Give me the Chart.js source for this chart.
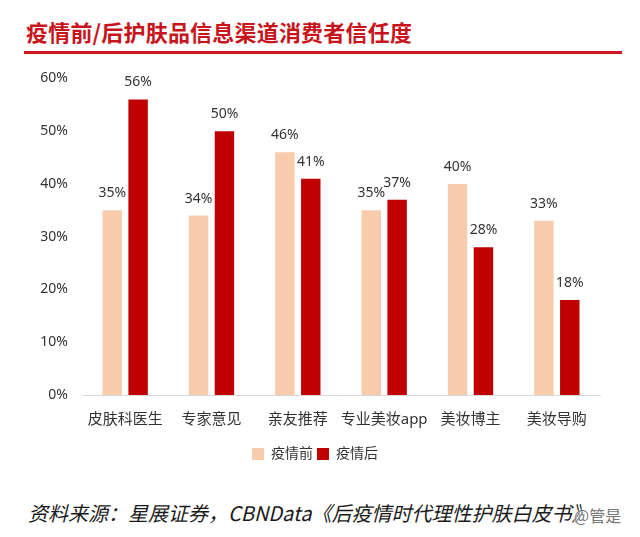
<!DOCTYPE html>
<html>
<head>
<meta charset="utf-8">
<script src="https://cdn.jsdelivr.net/npm/chart.js@4"></script>
<style>
  html, body { margin: 0; padding: 0; background: #fff; }
  body { width: 640px; height: 537px; position: relative; overflow: hidden;
         font-family: 'Noto Sans', 'Noto Sans CJK SC', sans-serif; }
  #title { position: absolute; left: 26px; top: 15px; font-size: 22px; font-weight: bold;
           color: #c8141c; font-family: 'Noto Sans CJK SC', sans-serif; letter-spacing: 0.2px; }
  #rule { position: absolute; left: 24px; top: 51px; width: 598px; height: 3px; background: #d0161e; }
  #box { position: absolute; left: 0; top: 56px; width: 640px; height: 419px; }
  #source { position: absolute; left: 28px; top: 498px; font-size: 20px; font-style: italic;
            color: #1a1a1a; font-family: 'Noto Sans CJK SC', sans-serif; white-space: nowrap; }
  #mark { position: absolute; left: 574px; top: 503px; font-size: 16px; color: #777;
          font-family: 'Noto Sans CJK SC', sans-serif; text-shadow: 0 0 2px #fff, 0 0 2px #fff; }
</style>
</head>
<body>
<div id="title">疫情前/后护肤品信息渠道消费者信任度</div>
<div id="rule"></div>
<div id="box"><canvas id="myChart"></canvas></div>
<div id="source">资料来源：星展证券，CBNData《后疫情时代理性护肤白皮书》</div>
<div id="mark">@管是</div>
<script>
const categories = ['皮肤科医生', '专家意见', '亲友推荐', '专业美妆app', '美妆博主', '美妆导购'];
const before = [35, 34, 46, 35, 40, 33];
const after = [56, 50, 41, 37, 28, 18];
const seriesNames = ['疫情前', '疫情后'];
const yTicks = [0, 10, 20, 30, 40, 50, 60];

const FONT = "'Noto Sans', 'Noto Sans CJK SC', sans-serif";

// labels above each bar
const barLabels = {
    id: 'barLabels',
    afterDatasetsDraw(chart) {
        const ctx = chart.ctx;
        ctx.save();
        ctx.font = '14px ' + FONT;
        ctx.fillStyle = '#333';
        ctx.textAlign = 'center';
        ctx.textBaseline = 'bottom';
        chart.data.datasets.forEach((ds, i) => {
            chart.getDatasetMeta(i).data.forEach((bar, j) => {
                ctx.fillText(ds.data[j] + '%', bar.x, bar.y - 10);
            });
        });
        ctx.restore();
    }
};

const ctx = document.getElementById('myChart').getContext('2d');

const chart = new Chart(ctx, {
    type: 'bar',
    data: {
        labels: categories,
        datasets: [{
            label: seriesNames[0],
            data: before,
            backgroundColor: '#f8cbad',
            categoryPercentage: 0.6,
            barPercentage: 0.75
        }, {
            label: seriesNames[1],
            data: after,
            backgroundColor: '#c00000',
            categoryPercentage: 0.6,
            barPercentage: 0.75
        }]
    },
    options: {
        responsive: true,
        maintainAspectRatio: false,
        animation: false,
        layout: { padding: { left: 30, right: 40, top: 9, bottom: 4 } },
        plugins: {
            legend: {
                position: 'bottom',
                labels: {
                    font: { size: 14, family: FONT },
                    color: '#333',
                    boxWidth: 12,
                    boxHeight: 12,
                    padding: 4
                }
            },
            tooltip: { enabled: false }
        },
        scales: {
            x: {
                afterFit: s => { s.height = 48; },
                grid: { display: false, drawTicks: false },
                border: { display: true, color: '#d9d9d9' },
                ticks: {
                    font: { size: 15, family: FONT },
                    color: '#333',
                    padding: 16,
                    maxRotation: 0,
                    minRotation: 0,
                    autoSkip: false
                }
            },
            y: {
                min: 0,
                max: 60,
                afterFit: s => { s.width = 52; },
                afterBuildTicks: s => { s.ticks = yTicks.map(v => ({ value: v })); },
                grid: { display: false, drawTicks: false },
                border: { display: false },
                ticks: {
                    font: { size: 14, family: FONT },
                    color: '#333',
                    padding: 14,
                    callback: v => v + '%'
                }
            }
        }
    },
    plugins: [barLabels]
});
</script>
</body>
</html>
